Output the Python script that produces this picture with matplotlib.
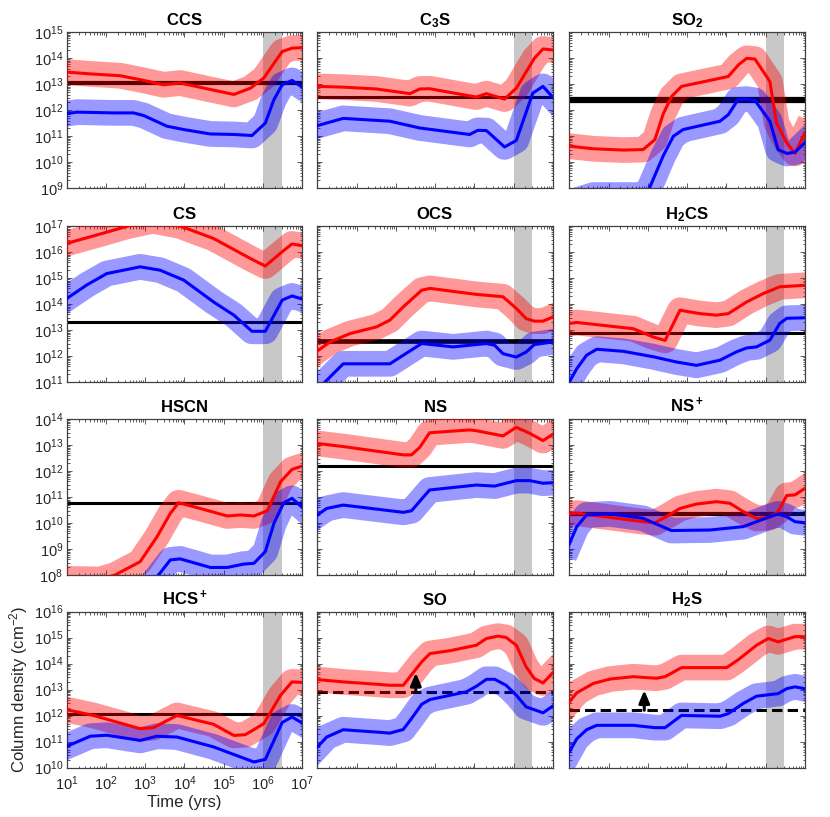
import numpy as np
import matplotlib
matplotlib.use("Agg")
import matplotlib.pyplot as plt
from matplotlib.ticker import NullFormatter, FixedLocator, LogFormatterSciNotation

plt.rcParams['font.family'] = ['Liberation Sans', 'DejaVu Sans']
plt.rcParams['mathtext.fontset'] = 'custom'
plt.rcParams['mathtext.rm'] = 'Liberation Sans'
plt.rcParams['mathtext.it'] = 'Liberation Sans:italic'
plt.rcParams['mathtext.bf'] = 'Liberation Sans:bold'

# ---------------- data (log10 time [yr], log10 column density [cm^-2]) ----------------
CCS_red_t = [1, 1.6, 2.36, 2.9, 3.47, 3.89, 4.6, 5.26, 5.68, 6.02, 6.49, 6.74, 7]
CCS_red_N = [13.47, 13.40, 13.33, 13.17, 12.98, 13.05, 12.82, 12.61, 12.85, 13.24, 14.26, 14.39, 14.41]
CCS_blue_t = [1, 1.26, 2.19, 2.70, 2.96, 3.55, 3.98, 4.66, 5.26, 5.72, 6.06, 6.28, 6.49, 6.74, 7]
CCS_blue_N = [11.87, 11.93, 11.90, 11.90, 11.80, 11.39, 11.26, 11.09, 11.07, 11.03, 11.51, 12.41, 12.98, 13.15, 12.89]
CCS_obs = 13.05

C3S_red_t = [1, 1.66, 2.51, 3.36, 3.61, 3.86, 5.05, 5.31, 5.77, 6.07, 6.53, 6.75, 7]
C3S_red_N = [12.92, 12.89, 12.82, 12.64, 12.82, 12.83, 12.51, 12.64, 12.43, 12.85, 14.0, 14.36, 14.32]
C3S_blue_t = [1, 1.66, 2.85, 3.61, 4.88, 5.09, 5.31, 5.77, 6.07, 6.49, 6.75, 7]
C3S_blue_N = [11.41, 11.69, 11.58, 11.32, 11.07, 11.23, 11.22, 10.59, 10.84, 12.66, 12.92, 12.50]
C3S_obs = 12.5

SO2_red_t = [1, 1.61, 2.38, 2.88, 3.18, 3.39, 3.61, 3.86, 5.05, 5.31, 5.52, 5.73, 6.11, 6.28, 6.54, 6.75, 7]
SO2_red_N = [10.62, 10.52, 10.47, 10.49, 10.87, 11.85, 12.54, 12.92, 13.30, 13.75, 14.0, 13.97, 13.11, 11.51, 10.75, 10.34, 11.13]
SO2_blue_t = [1, 1.61, 2.88, 3.04, 3.39, 3.65, 3.90, 4.84, 5.05, 5.30, 5.52, 5.73, 6.11, 6.32, 6.54, 6.75, 7]
SO2_blue_N = [8.45, 8.74, 8.74, 9.0, 10.24, 11.0, 11.26, 11.58, 11.83, 12.41, 12.43, 12.38, 11.58, 10.49, 10.34, 10.39, 10.75]
SO2_obs = 12.41

CS_red_t = [1, 1.85, 2.57, 3.2, 3.89, 4.74, 5.68, 6.06, 6.49, 6.74, 7]
CS_red_N = [16.33, 16.69, 17.0, 17.2, 17.0, 16.52, 15.75, 15.46, 16.01, 16.31, 16.24]
CS_blue_t = [1, 1.51, 2.02, 2.87, 3.38, 3.98, 4.74, 5.26, 5.72, 6.06, 6.49, 6.74, 7]
CS_blue_N = [14.21, 14.73, 15.17, 15.43, 15.30, 14.92, 14.08, 13.57, 12.95, 12.95, 14.15, 14.31, 14.19]
CS_obs = 13.29

OCS_red_t = [1, 1.32, 1.83, 2.51, 2.85, 3.19, 3.66, 3.87, 5.05, 5.73, 6.07, 6.32, 6.53, 6.75, 7]
OCS_red_N = [12.19, 12.54, 12.86, 13.12, 13.38, 13.89, 14.53, 14.60, 14.37, 14.28, 13.83, 13.44, 13.34, 13.34, 13.50]
OCS_blue_t = [1, 1.15, 1.66, 2.17, 2.85, 3.19, 3.66, 4.46, 5.31, 5.52, 5.73, 6.07, 6.32, 6.53, 7]
OCS_blue_N = [10.7, 10.93, 11.70, 11.70, 11.70, 12.03, 12.48, 12.35, 12.48, 12.41, 12.09, 11.96, 12.15, 12.44, 12.54]
OCS_obs = 12.59

H2CS_red_t = [1, 1.19, 2.63, 3.14, 3.44, 3.82, 4.33, 4.75, 5.05, 5.52, 5.94, 6.36, 7]
H2CS_red_N = [13.25, 13.29, 13.05, 12.73, 12.60, 13.76, 13.63, 13.57, 13.63, 14.08, 14.40, 14.66, 14.72]
H2CS_blue_t = [1, 1.19, 1.44, 1.70, 2.38, 3.14, 3.73, 4.24, 4.84, 5.26, 5.52, 5.77, 6.11, 6.36, 6.54, 7]
H2CS_blue_N = [11.0, 11.51, 12.03, 12.26, 12.18, 11.97, 11.77, 11.64, 11.84, 12.16, 12.31, 12.35, 12.61, 13.25, 13.45, 13.47]
H2CS_obs = 12.89

HSCN_red_t = [1, 1.85, 2.23, 2.87, 3.30, 3.64, 3.85, 4.40, 5.09, 5.43, 5.77, 6.11, 6.45, 6.74, 7]
HSCN_red_N = [7.85, 7.83, 8.0, 8.51, 9.47, 10.37, 10.78, 10.56, 10.27, 10.31, 10.27, 10.47, 11.59, 12.06, 12.19]
HSCN_blue_t = [1, 2.5, 3.0, 3.34, 3.64, 3.89, 4.66, 5.09, 5.51, 5.77, 6.06, 6.28, 6.53, 6.74, 7]
HSCN_blue_N = [6.0, 6.5, 7.3, 8.0, 8.58, 8.62, 8.29, 8.29, 8.42, 8.45, 8.90, 9.99, 10.78, 10.95, 10.60]
HSCN_obs = 10.78

NS_red_t = [1, 1.66, 3.19, 3.40, 3.61, 3.86, 4.88, 5.05, 5.73, 6.07, 6.41, 6.75, 7]
NS_red_N = [13.06, 12.94, 12.62, 12.62, 12.91, 13.47, 13.58, 13.55, 13.35, 13.68, 13.45, 13.17, 13.41]
NS_blue_t = [1, 1.24, 1.66, 3.19, 3.40, 3.86, 5.05, 5.52, 6.07, 6.41, 6.75, 7]
NS_blue_N = [10.31, 10.56, 10.69, 10.41, 10.47, 11.27, 11.46, 11.42, 11.63, 11.63, 11.53, 11.55]
NS_obs = 12.19

NSp_red_t = [1, 1.19, 2.88, 3.18, 3.47, 3.82, 4.24, 4.75, 5.09, 5.43, 5.77, 6.11, 6.32, 6.54, 6.75, 7]
NSp_red_N = [10.35, 10.38, 10.05, 10.01, 10.24, 10.56, 10.73, 10.82, 10.76, 10.44, 10.17, 10.22, 10.44, 11.06, 11.08, 11.33]
NSp_blue_t = [1, 1.19, 1.44, 2.04, 2.88, 3.60, 4.58, 5.43, 5.77, 6.11, 6.32, 6.54, 6.75, 7]
NSp_blue_N = [9.19, 9.86, 10.31, 10.35, 10.18, 9.71, 9.73, 9.86, 10.05, 10.24, 10.35, 10.24, 10.05, 10.01]
NSp_obs = 10.36

HCSp_red_t = [1, 1.68, 2.87, 3.21, 3.81, 4.74, 5.26, 5.55, 6.02, 6.45, 6.74, 7]
HCSp_red_N = [12.23, 12.01, 11.50, 11.54, 12.01, 11.67, 11.24, 11.27, 11.69, 12.79, 13.30, 13.28]
HCSp_blue_t = [1, 1.60, 2.02, 2.87, 3.30, 3.81, 4.74, 5.77, 6.06, 6.49, 6.74, 7]
HCSp_blue_N = [10.82, 11.21, 11.25, 11.05, 11.21, 11.18, 10.80, 10.22, 10.32, 11.74, 11.95, 11.72]
HCSp_obs = 12.05

SO_red_t = [1, 1.66, 2.51, 2.85, 3.19, 3.44, 3.66, 3.87, 4.38, 5.05, 5.31, 5.60, 5.81, 6.07, 6.32, 6.53, 6.75, 7]
SO_red_N = [13.39, 13.30, 13.21, 13.17, 13.17, 13.65, 14.07, 14.39, 14.50, 14.71, 14.97, 15.06, 15.01, 14.71, 13.88, 13.43, 13.26, 13.65]
SO_blue_t = [1, 1.24, 1.66, 2.51, 2.85, 3.19, 3.40, 3.66, 3.87, 4.80, 5.05, 5.31, 5.52, 5.81, 6.07, 6.32, 6.53, 6.75, 7]
SO_blue_N = [10.79, 11.18, 11.46, 11.37, 11.33, 11.47, 11.89, 12.44, 12.62, 12.92, 13.13, 13.40, 13.40, 13.17, 12.79, 12.34, 12.23, 12.11, 12.37]
SO_obs = 12.92
SO_arrow = (3.51, 13.65)

H2S_red_t = [1, 1.19, 1.61, 2.04, 2.63, 3.22, 3.44, 3.86, 4.41, 5.01, 5.31, 5.77, 6.07, 6.32, 6.75, 7]
H2S_red_N = [12.53, 12.88, 13.24, 13.41, 13.50, 13.44, 13.50, 13.85, 13.85, 13.85, 14.16, 14.71, 14.97, 14.84, 15.04, 15.04]
H2S_blue_t = [1, 1.19, 1.44, 1.70, 2.63, 3.18, 3.44, 3.86, 4.84, 5.05, 5.43, 5.77, 6.32, 6.54, 6.75, 7]
H2S_blue_N = [10.60, 11.11, 11.46, 11.63, 11.63, 11.54, 11.54, 12.01, 11.98, 12.08, 12.47, 12.75, 12.85, 13.04, 13.11, 13.04]
H2S_obs = 12.21
H2S_arrow = (2.91, 12.98)

titles = [r"$\mathbf{CCS}$", r"$\mathbf{C_3S}$", r"$\mathbf{SO_2}$",
          r"$\mathbf{CS}$", r"$\mathbf{OCS}$", r"$\mathbf{H_2CS}$",
          r"$\mathbf{HSCN}$", r"$\mathbf{NS}$", r"$\mathbf{NS^+}$",
          r"$\mathbf{HCS^+}$", r"$\mathbf{SO}$", r"$\mathbf{H_2S}$"]
row_ylim = [(9, 15), (11, 17), (8, 14), (10, 16)]
x_decades = (1, 7)
shade_range = (1e6, 3e6)

panels = [
    (CCS_red_t, CCS_red_N, CCS_blue_t, CCS_blue_N, CCS_obs, 3.0, False, None),
    (C3S_red_t, C3S_red_N, C3S_blue_t, C3S_blue_N, C3S_obs, 2.2, False, None),
    (SO2_red_t, SO2_red_N, SO2_blue_t, SO2_blue_N, SO2_obs, 4.5, False, None),
    (CS_red_t, CS_red_N, CS_blue_t, CS_blue_N, CS_obs, 2.2, False, None),
    (OCS_red_t, OCS_red_N, OCS_blue_t, OCS_blue_N, OCS_obs, 3.4, False, None),
    (H2CS_red_t, H2CS_red_N, H2CS_blue_t, H2CS_blue_N, H2CS_obs, 2.2, False, None),
    (HSCN_red_t, HSCN_red_N, HSCN_blue_t, HSCN_blue_N, HSCN_obs, 2.2, False, None),
    (NS_red_t, NS_red_N, NS_blue_t, NS_blue_N, NS_obs, 2.2, False, None),
    (NSp_red_t, NSp_red_N, NSp_blue_t, NSp_blue_N, NSp_obs, 3.0, False, None),
    (HCSp_red_t, HCSp_red_N, HCSp_blue_t, HCSp_blue_N, HCSp_obs, 2.2, False, None),
    (SO_red_t, SO_red_N, SO_blue_t, SO_blue_N, SO_obs, 2.2, True, SO_arrow),
    (H2S_red_t, H2S_red_N, H2S_blue_t, H2S_blue_N, H2S_obs, 2.2, True, H2S_arrow),
]


def log_ticks(lo, hi):
    major = 10.0 ** np.arange(lo, hi + 1)
    minor = [m * 10.0 ** k for k in range(lo, hi) for m in range(2, 10)]
    return major, minor


# ---------------- layout ----------------
W, H = 830, 817
fig = plt.figure(figsize=(W / 100, H / 100), dpi=100)
col_left = [66.7, 317.3, 569.3]
row_top = [32.3, 226.0, 419.0, 611.7]
aw, ah = 235.5, 156.0

band_lw = 18.5
line_lw = 2.2
frame_col = '#404040'
text_col = '#262626'

for i, (rt, rN, bt, bN, obs, obs_lw, dashed, arrow) in enumerate(panels):
    r, c = divmod(i, 3)
    ax = fig.add_axes([col_left[c] / W, 1 - (row_top[r] + ah) / H, aw / W, ah / H])
    ax.set_xscale('log')
    ax.set_yscale('log')
    ax.set_xlim(10.0 ** x_decades[0], 10.0 ** x_decades[1])
    lo, hi = row_ylim[r]
    ax.set_ylim(10.0 ** lo, 10.0 ** hi)

    ax.axvspan(*shade_range, color='#c8c8c8', lw=0, zorder=1)
    ls = (0, (3.4, 1.7)) if dashed else '-'
    ax.axhline(10.0 ** obs, color='k', lw=obs_lw, ls=ls, zorder=2)

    for tt, NN, col in ((rt, rN, '#ff0000'), (bt, bN, '#0000ff')):
        x = 10.0 ** np.asarray(tt)
        y = 10.0 ** np.asarray(NN)
        ax.plot(x, y, color=col, lw=band_lw, alpha=0.4, solid_joinstyle='round',
                solid_capstyle='projecting', zorder=3)
    for tt, NN, col in ((rt, rN, '#ff0000'), (bt, bN, '#0000ff')):
        x = 10.0 ** np.asarray(tt)
        y = 10.0 ** np.asarray(NN)
        ax.plot(x, y, color=col, lw=line_lw, solid_joinstyle='round', zorder=4)

    if arrow is not None:
        at, atop = arrow
        ax.annotate('', xy=(10.0 ** at, 10.0 ** atop), xytext=(10.0 ** at, 10.0 ** obs),
                    arrowprops=dict(arrowstyle='-|>,head_length=0.75,head_width=0.32',
                                    lw=2.2, color='k', shrinkA=0, shrinkB=0,
                                    mutation_scale=10), zorder=5)

    ax.set_title(titles[i], fontsize=12, color='k', pad=5)

    xmaj, xmin = log_ticks(*x_decades)
    ymaj, ymin = log_ticks(lo, hi)
    ax.xaxis.set_major_locator(FixedLocator(xmaj))
    ax.xaxis.set_minor_locator(FixedLocator(xmin))
    ax.yaxis.set_major_locator(FixedLocator(ymaj))
    ax.yaxis.set_minor_locator(FixedLocator(ymin))
    ax.tick_params(which='both', direction='in', top=True, right=True,
                   colors=frame_col, labelcolor=text_col, labelsize=10.5, width=0.6)
    ax.tick_params(which='major', length=3.5)
    ax.tick_params(which='minor', length=1.8)
    for s in ax.spines.values():
        s.set_color(frame_col)
        s.set_linewidth(0.9)

    ax.xaxis.set_minor_formatter(NullFormatter())
    ax.yaxis.set_minor_formatter(NullFormatter())
    if c == 0:
        ax.yaxis.set_major_formatter(LogFormatterSciNotation())
    else:
        ax.yaxis.set_major_formatter(NullFormatter())
    if r == 3 and c == 0:
        ax.xaxis.set_major_formatter(LogFormatterSciNotation())
        ax.set_xlabel('Time (yrs)', fontsize=12, color=text_col, labelpad=1)
        ax.set_ylabel(r'Column density (cm$^{-2}$)', fontsize=12, color=text_col, labelpad=3)
    else:
        ax.xaxis.set_major_formatter(NullFormatter())
    ax.tick_params(axis='y', pad=2.5)
    ax.tick_params(axis='x', pad=5)

fig.savefig('out.png', dpi=100)
